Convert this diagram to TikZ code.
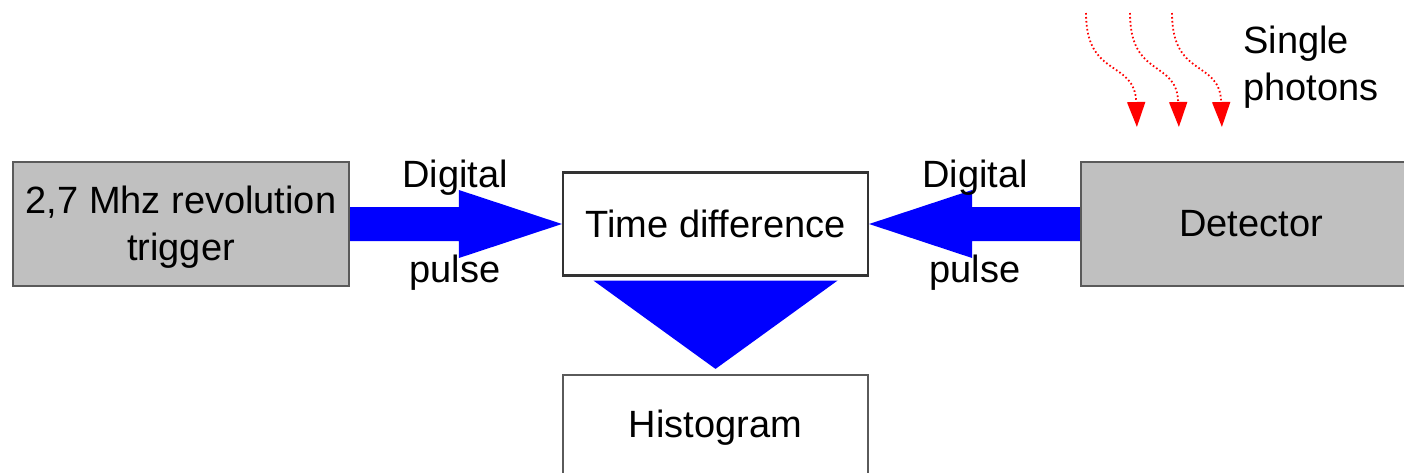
\documentclass[tikz,border=0pt]{standalone}
\usepackage{fontspec}
\setmainfont{Liberation Sans}
\usetikzlibrary{arrows.meta,calc}
\definecolor{boxgray}{HTML}{C0C0C0}
\definecolor{edgegray}{HTML}{5A5A5A}
\definecolor{edgedark}{HTML}{333333}
\begin{document}
\begin{tikzpicture}[x=1pt,y=-1pt,
  txt/.style={font=\fontsize{38}{47}\selectfont, text=black},
  graybox/.style={txt, draw=edgegray, line width=2.2pt, fill=boxgray, inner sep=0pt, align=center},
  whitebox/.style={txt, draw=edgedark, line width=2.2pt, fill=white, inner sep=0pt, align=center},
  blockarrow/.style={fill=blue},
  photon/.style={draw=red, line width=1.8pt, dash pattern=on 1.6pt off 2.4pt,
     -{Triangle[length=25pt,width=18pt,fill=red,sep=4pt]}},
  lbl/.style={txt, anchor=base, inner sep=0pt}
]
\useasboundingbox (0,0) rectangle (1404,472);

% boxes
\node[graybox, minimum width=336pt, minimum height=124pt] (trig) at (181,224) {};
\node[txt, align=center, inner sep=0pt] (trigtxt) at ($(trig.center)+(0,3)$) {2,7 Mhz revolution\\trigger};
\node[whitebox, minimum width=305pt, minimum height=103pt] (time) at (715.5,224) {Time difference};
\node[whitebox, draw=edgegray, minimum width=305pt, minimum height=106pt] (hist) at (715.5,428) {Histogram};
\node[graybox, minimum width=340pt, minimum height=124pt] (det) at (1251,224) {Detector};

% block arrows
\fill[blockarrow] ($(trig.east)+(0,-17)$) -- ($(time.west)+(-103,-17)$) -- ($(time.west)+(-103,-34)$)
  -- (time.west) -- ($(time.west)+(-103,34)$) -- ($(time.west)+(-103,17)$) -- ($(trig.east)+(0,17)$) -- cycle;
\fill[blockarrow] ($(det.west)+(0,-17)$) -- ($(time.east)+(103,-17)$) -- ($(time.east)+(103,-34)$)
  -- (time.east) -- ($(time.east)+(103,34)$) -- ($(time.east)+(103,17)$) -- ($(det.west)+(0,17)$) -- cycle;
\fill[blockarrow] ($(time.south)+(-122,4)$) -- ($(time.south)+(122,4)$) -- ($(hist.north)+(0,-5)$) -- cycle;

% labels
\node[lbl] (d1) at (455,187) {Digital};
\node[lbl] (p1) at (455,282) {pulse};
\node[lbl] (d2) at (975,187) {Digital};
\node[lbl] (p2) at (975,282) {pulse};
\node[txt, anchor=base west, inner sep=0pt] (sp) at (1243,53) {Single};
\node[txt, anchor=base west, inner sep=0pt] (ph) at (1243,100) {photons};

% photons
\coordinate (ph1s) at (1086,13); \coordinate (ph1e) at (1137,131);
\coordinate (ph2s) at (1130,13); \coordinate (ph2e) at (1179,131);
\coordinate (ph3s) at (1172,13); \coordinate (ph3e) at (1222,131);
\draw[photon] (ph1s) .. controls +(0,66) and +(-2,-72) .. (ph1e);
\draw[photon] (ph2s) .. controls +(0,66) and +(-2,-72) .. (ph2e);
\draw[photon] (ph3s) .. controls +(0,66) and +(-2,-72) .. (ph3e);
\end{tikzpicture}
\end{document}
